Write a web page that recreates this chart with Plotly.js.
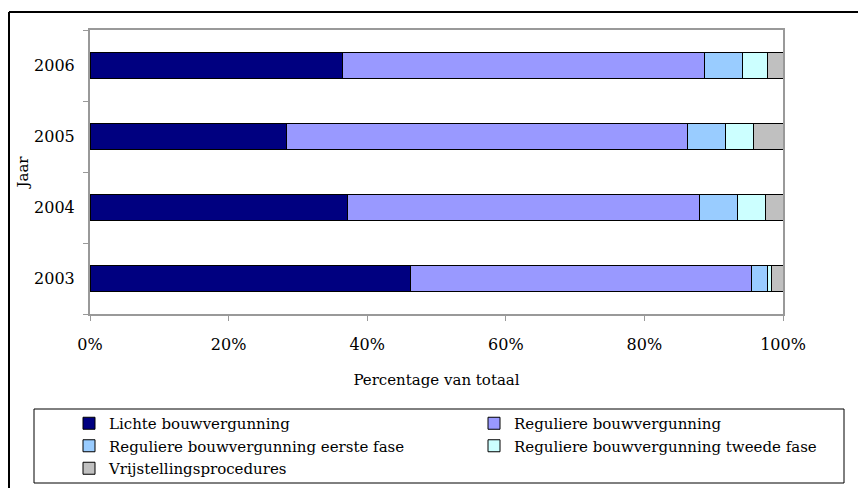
<!DOCTYPE html>
<html>
<head>
<meta charset="utf-8">
<script src="https://cdn.plot.ly/plotly-3.0.1.min.js"></script>
<style>
html,body{margin:0;padding:0;background:#fff;}
#chart{width:858px;height:488px;}
</style>
</head>
<body>
<div id="chart"></div>
<script>
const years = ["2003", "2004", "2005", "2006"];
const seriesNames = ["Lichte bouwvergunning", "Reguliere bouwvergunning", "Reguliere bouwvergunning eerste fase", "Reguliere bouwvergunning tweede fase", "Vrijstellingsprocedures"];
const lichte = [46.2, 37.1, 28.4, 36.5];
const reguliere = [49.3, 50.8, 57.8, 52.1];
const eersteFase = [2.2, 5.6, 5.5, 5.6];
const tweedeFase = [0.7, 4.0, 4.1, 3.5];
const vrijstelling = [1.6, 2.5, 4.2, 2.3];
const xTicks = [0, 20, 40, 60, 80, 100];

const colors = ["#000080", "#9999FF", "#99CCFF", "#CCFFFF", "#C0C0C0"];
const values = [lichte, reguliere, eersteFase, tweedeFase, vrijstelling];
const legendOf = ["legend", "legend2", "legend", "legend2", "legend"];
const FONT = "DejaVu Serif, Liberation Serif, serif";

const traces = values.map((v, i) => ({
  type: "bar",
  orientation: "h",
  name: seriesNames[i],
  y: years,
  x: v,
  legend: legendOf[i],
  legendgroup: "g" + i,
  marker: {color: colors[i], line: {color: "#000", width: 1}},
  hoverinfo: "skip"
}));

// pixel -> paper helpers (plot area: x 90..783, y 30..314)
const px = p => (p - 90) / 693;
const py = p => (314 - p) / 284;

const legendBase = {
  orientation: "v",
  xanchor: "left",
  yanchor: "top",
  font: {family: FONT, size: 15},
  bgcolor: "rgba(0,0,0,0)",
  borderwidth: 0,
  traceorder: "normal",
  tracegroupgap: 3
};

const layout = {
  width: 858, height: 488,
  margin: {l: 90, r: 75, t: 30, b: 174, autoexpand: false},
  paper_bgcolor: "#fff",
  plot_bgcolor: "#fff",
  barmode: "stack",
  bargap: 0.62,
  font: {family: FONT, color: "#000", size: 15},
  xaxis: {
    range: [0, 100],
    tickvals: xTicks,
    ticktext: xTicks.map(t => t + "%"),
    ticks: "outside", ticklen: 5, tickcolor: "#999",
    showgrid: false, zeroline: false,
    showline: true, linecolor: "#999", linewidth: 2, mirror: true,
    tickfont: {family: FONT, size: 16},
    ticklabelstandoff: 10,
    title: {text: "Percentage van totaal", font: {family: FONT, size: 15}, standoff: 21},
    automargin: false,
    fixedrange: true
  },
  yaxis: {
    type: "category",
    categoryorder: "array", categoryarray: years,
    tickson: "boundaries",
    ticks: "outside", ticklen: 5, tickcolor: "#999",
    showgrid: false, zeroline: false,
    showline: true, linecolor: "#999", linewidth: 2, mirror: true,
    tickfont: {family: FONT, size: 16},
    ticklabelstandoff: 10,
    title: {text: "Jaar", font: {family: FONT, size: 15}, standoff: 2},
    automargin: false,
    fixedrange: true
  },
  showlegend: true,
  legend: Object.assign({}, legendBase, {x: px(69), y: py(407)}),
  legend2: Object.assign({}, legendBase, {x: px(474), y: py(407)}),
  shapes: [
    {type: "line", xref: "paper", yref: "paper", x0: px(9), x1: px(870), y0: py(12), y1: py(12), line: {color: "#000", width: 2}},
    {type: "line", xref: "paper", yref: "paper", x0: px(9), x1: px(9), y0: py(12), y1: py(500), line: {color: "#000", width: 2}},
    {type: "rect", xref: "paper", yref: "paper", x0: px(34), x1: px(844), y0: py(483), y1: py(409), line: {color: "#000", width: 1}}
  ]
};

Plotly.newPlot("chart", traces, layout, {displayModeBar: false, staticPlot: true});
</script>
</body>
</html>
